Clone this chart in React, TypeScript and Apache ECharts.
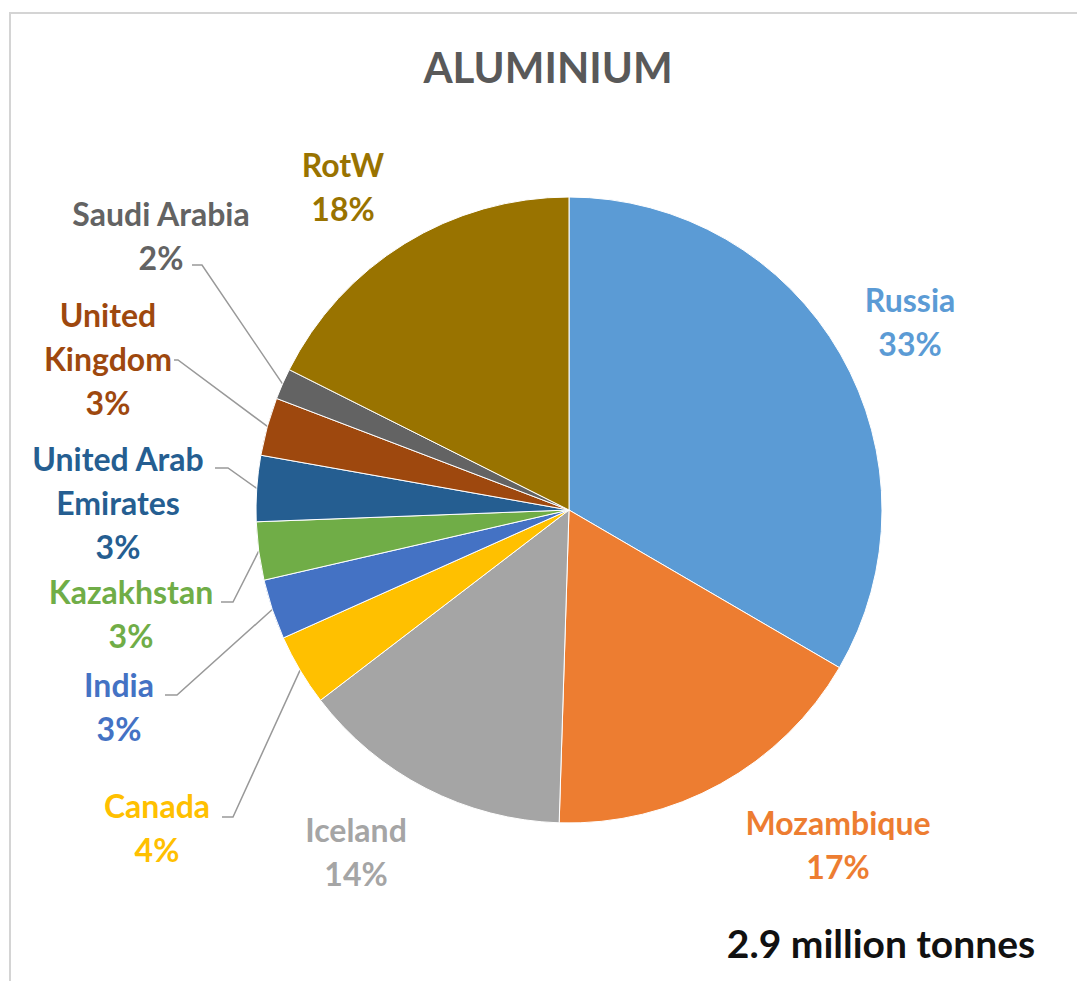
import React, { useEffect, useRef } from "react";
import * as echarts from "echarts";

const countries = [
  "Russia",
  "Mozambique",
  "Iceland",
  "Canada",
  "India",
  "Kazakhstan",
  "United Arab\nEmirates",
  "United\nKingdom",
  "Saudi Arabia",
  "RotW",
];
const shares = [33.4, 17.1, 14.1, 3.7, 3.1, 3.0, 3.4, 3.0, 1.6, 17.6];
const colors = [
  "#5B9BD5",
  "#ED7D31",
  "#A5A5A5",
  "#FFC000",
  "#4472C4",
  "#70AD47",
  "#255E91",
  "#9E480E",
  "#636363",
  "#997300",
];
const titleText = "ALUMINIUM";
const totalText = "2.9 million tonnes";

// label layout (block centres) and leader-line elbows
const labelCenters: [number, number][] = [
  [910, 321],
  [838, 844],
  [356, 851],
  [157, 827],
  [119, 706],
  [131, 613],
  [118, 502],
  [108, 358],
  [161, 235],
  [343, 186],
];
const leaderElbows: ([number, number][] | null)[] = [
  null,
  null,
  null,
  [[233, 817], [222, 817]],
  [[177, 695], [165, 695]],
  [[233, 602], [221, 602]],
  [[228, 468], [215, 468]],
  [[178, 360], [174, 360]],
  [[202, 265], [192, 265]],
  null,
];

const FONT = "Lato, 'Open Sans', sans-serif";

export default function App() {
  const ref = useRef<HTMLDivElement>(null);
  useEffect(() => {
    document.body.style.margin = "0";
    if (!ref.current) return;
    const chart = echarts.init(ref.current, undefined, { renderer: "svg" });
    const data = countries.map((name, i) => ({
      name,
      value: shares[i],
      itemStyle: { color: colors[i] },
      label: { color: colors[i] },
      labelLine: { show: !!leaderElbows[i] },
    }));
    chart.setOption({
      animation: false,
      backgroundColor: "#ffffff",
      graphic: [
        {
          type: "rect",
          shape: { x: 10, y: 13, width: 1100, height: 1000 },
          style: { fill: "none", stroke: "#d4d4d4", lineWidth: 2 },
          silent: true,
        },
        {
          type: "text",
          x: 548,
          y: 67,
          style: {
            text: titleText,
            fill: "#595959",
            font: `bold 42px ${FONT}`,
            align: "center",
            verticalAlign: "middle",
          },
        },
        {
          type: "text",
          x: 881,
          y: 943,
          style: {
            text: totalText,
            fill: "#111111",
            font: `bold 39px ${FONT}`,
            align: "center",
            verticalAlign: "middle",
          },
        },
      ],
      series: [
        {
          type: "pie",
          center: [569, 510],
          radius: 313,
          startAngle: 90,
          clockwise: true,
          avoidLabelOverlap: false,
          itemStyle: { borderColor: "#ffffff", borderWidth: 1 },
          label: {
            show: true,
            position: "outside",
            fontFamily: FONT,
            fontWeight: "bold",
            fontSize: 32,
            lineHeight: 44,
            align: "center",
            formatter: (p: any) => `${p.name}\n${Math.round(p.percent)}%`,
          },
          labelLine: {
            show: true,
            length: 10,
            length2: 10,
            lineStyle: { color: "#999999", width: 1.5 },
          },
          labelLayout: (params: any) => {
            const i = params.dataIndex;
            const c = labelCenters[i];
            const res: any = {
              x: c[0],
              y: c[1],
              align: "center",
              verticalAlign: "middle",
            };
            const elbows = leaderElbows[i];
            if (elbows && params.labelLinePoints && params.labelLinePoints[0]) {
              res.labelLinePoints = [params.labelLinePoints[0], ...elbows];
            }
            return res;
          },
          emphasis: { disabled: true },
          data,
        },
      ],
    });
    return () => chart.dispose();
  }, []);
  return <div ref={ref} style={{ width: 1077, height: 981 }} />;
}
